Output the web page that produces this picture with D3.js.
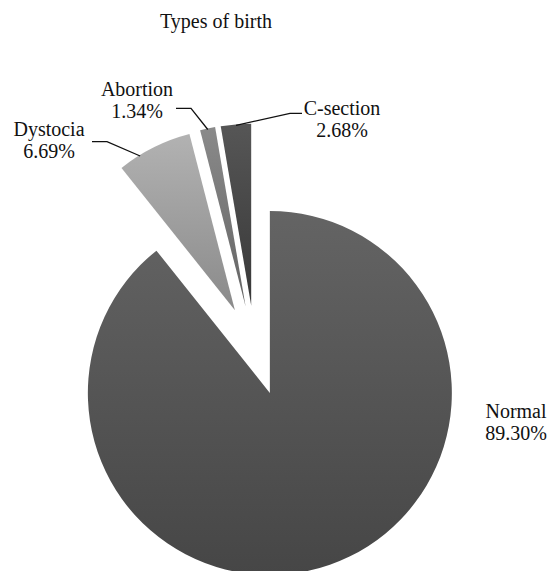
<!DOCTYPE html>
<meta charset="utf-8">
<head>
<script src="https://d3js.org/d3.v7.min.js"></script>
<style>
  body { margin: 0; background: #fff; }
  text { font-family: "Liberation Serif", "DejaVu Serif", serif; fill: #111; }
</style>
</head>
<body>
<div id="chart"></div>
<script>
// data
var categories = ["Normal", "Dystocia", "Abortion", "C-section"];
var percents = [89.30, 6.69, 1.34, 2.68];
var percentLabels = ["89.30%", "6.69%", "1.34%", "2.68%"];

// gradient colours (top, bottom) per slice
var colorsTop = ["#646464", "#b2b2b2", "#8a8a8a", "#565656"];
var colorsBottom = ["#464646", "#8a8a8a", "#646464", "#383838"];

var width = 552, height = 571;
var cx = 255, cy = 350.5, radius = 182, explode = 45;

var svg = d3.select("#chart").append("svg")
    .attr("width", width)
    .attr("height", height);

// title
svg.append("text")
    .attr("x", 216)
    .attr("y", 28)
    .attr("text-anchor", "middle")
    .style("font-size", "20px")
    .text("Types of birth");

var defs = svg.append("defs");
categories.forEach(function(c, i) {
  var g = defs.append("linearGradient")
      .attr("id", "grad" + i)
      .attr("x1", 0).attr("y1", 0).attr("x2", 0).attr("y2", 1);
  g.append("stop").attr("offset", "0%").attr("stop-color", colorsTop[i]);
  g.append("stop").attr("offset", "100%").attr("stop-color", colorsBottom[i]);
});

var pie = d3.pie().sort(null).value(function(d) { return d; });
var arcs = pie(percents);
var arc = d3.arc().innerRadius(0).outerRadius(radius);

function offset(a) {
  var m = (a.startAngle + a.endAngle) / 2;
  return [cx + explode * Math.sin(m), cy - explode * Math.cos(m)];
}

svg.selectAll("path.slice")
  .data(arcs)
  .enter()
  .append("path")
    .attr("class", "slice")
    .attr("transform", function(d) { var o = offset(d); return "translate(" + o[0] + "," + o[1] + ")"; })
    .attr("d", arc)
    .attr("fill", function(d, i) { return "url(#grad" + i + ")"; });

// labels: text centre, line y positions, leader points
var labelLayout = [
  {x: 516, y: 418, leader: null},
  {x: 49, y: 136, leader: {pts: [[92, 141.7], [107, 141.7]], frac: 0.29}},
  {x: 137, y: 96, leader: {pts: [[176, 108.3], [191, 108.3]], frac: 0.5}},
  {x: 342, y: 115, leader: {pts: [[302, 113.3], [290, 113.3]], frac: 0.5}}
];

arcs.forEach(function(a, i) {
  var L = labelLayout[i];
  var t = svg.append("text")
      .attr("text-anchor", "middle")
      .style("font-size", "20px");
  t.append("tspan").attr("x", L.x).attr("y", L.y).text(categories[i]);
  t.append("tspan").attr("x", L.x).attr("y", L.y + 22).text(percentLabels[i]);

  if (L.leader) {
    var o = offset(a);
    var ang = a.startAngle + (a.endAngle - a.startAngle) * L.leader.frac;
    var end = [o[0] + (radius - 1) * Math.sin(ang), o[1] - (radius - 1) * Math.cos(ang)];
    var pts = L.leader.pts.concat([end]);
    svg.append("path")
        .attr("d", d3.line()(pts))
        .attr("fill", "none")
        .attr("stroke", "#111")
        .attr("stroke-width", 1.3);
  }
});
</script>
</body>
